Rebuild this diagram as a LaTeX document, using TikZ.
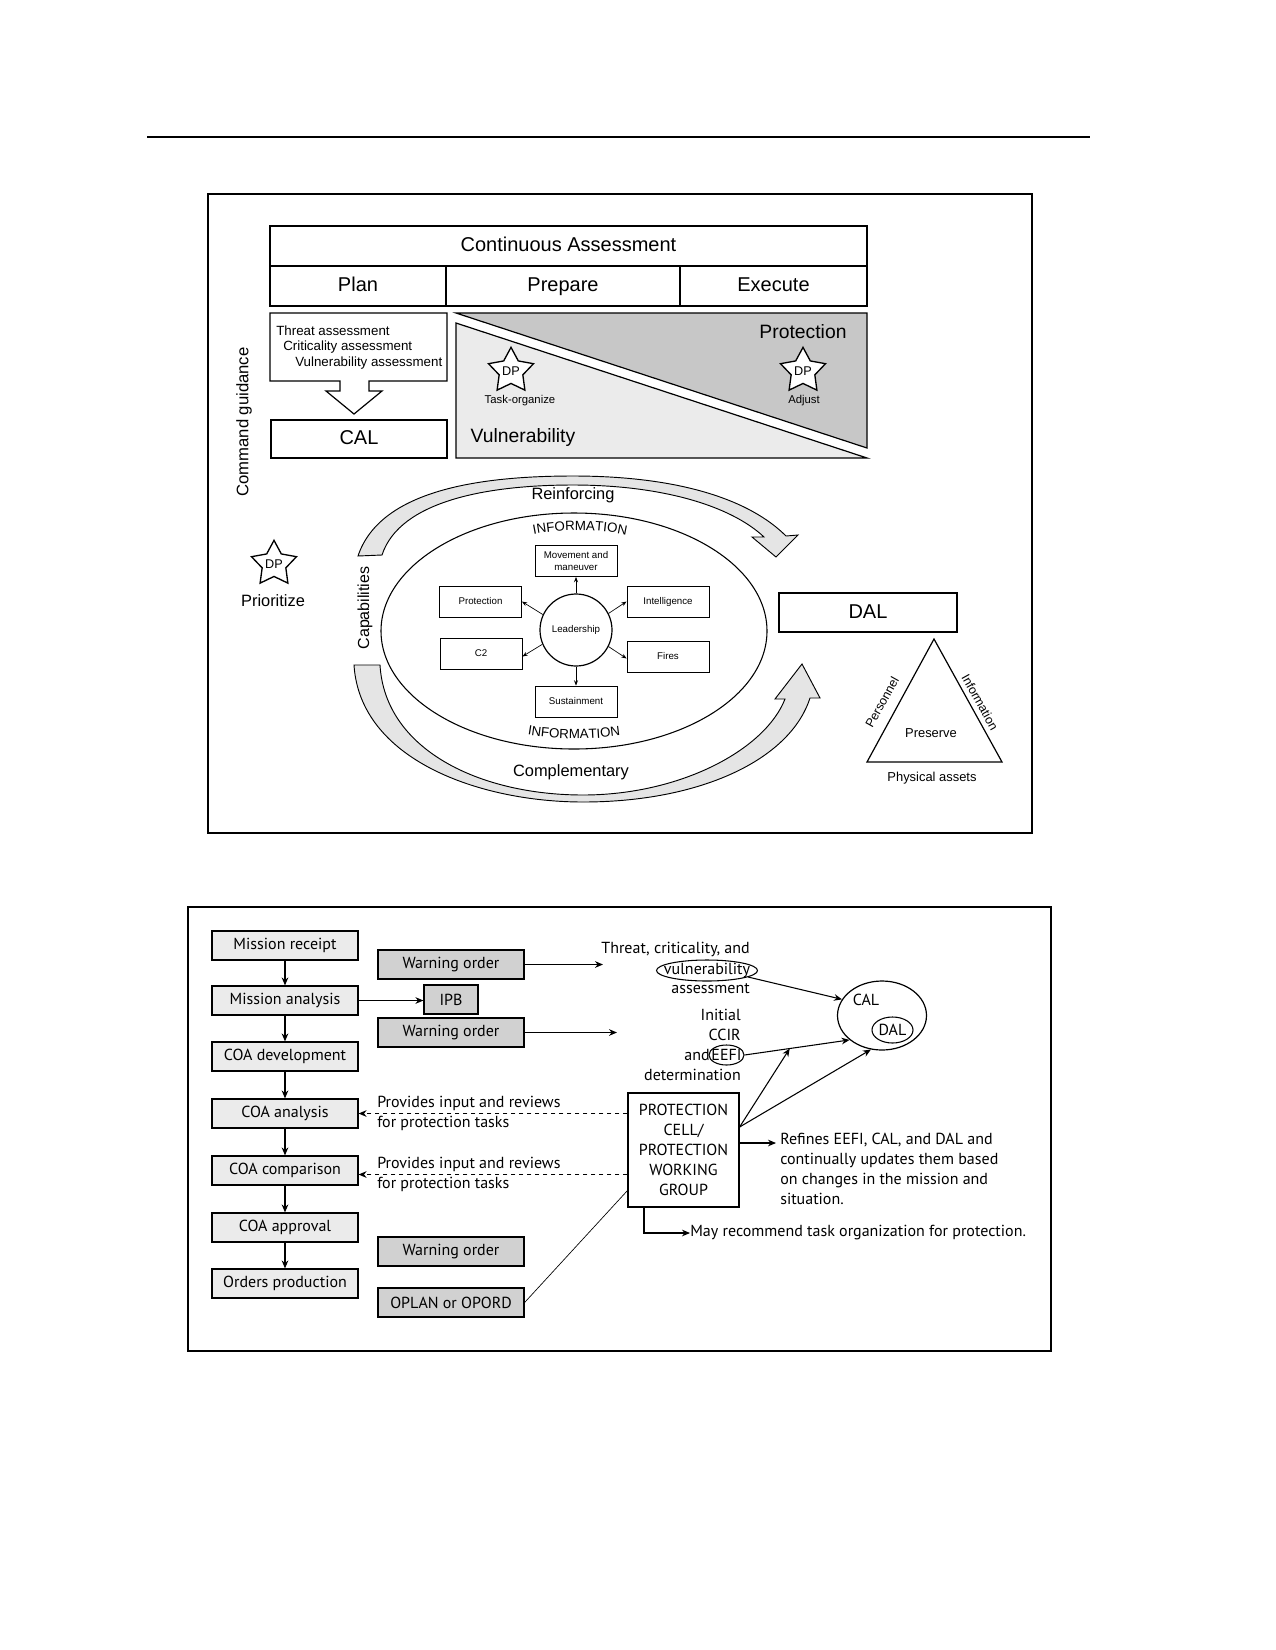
\documentclass[tikz,border=0pt]{standalone}
\usepackage{fontspec}
\setmainfont{Liberation Sans}
\newfontfamily\myr{PT Sans}
\usetikzlibrary{shapes.geometric,arrows.meta,decorations.text,calc}
\definecolor{lg}{gray}{0.92}
\definecolor{dg}{gray}{0.78}
\definecolor{bandg}{gray}{0.90}
\definecolor{boxl}{gray}{0.92}
\definecolor{boxd}{gray}{0.82}
\begin{document}
\begin{tikzpicture}[x=0.75pt,y=-0.75pt,
  outerframe/.style={draw, line width=1.1pt},
  tbox/.style={draw, line width=0.9pt, inner sep=0pt, text height=11pt, text depth=2.5pt, font=\fontsize{15}{18}\selectfont},
  ibox/.style={draw, line width=0.6pt, minimum width=61.5pt, minimum height=23.25pt, inner sep=0pt, align=center, font=\fontsize{7.3}{8.5}\selectfont},
  dpstar/.style={star, star points=5, star point ratio=1.9, draw, line width=1pt, fill=white, minimum size=32pt, inner sep=0pt, font=\fontsize{9.5}{10}\selectfont},
  smallarrow/.style={-{Stealth[length=4pt,width=3pt]}, line width=0.5pt},
  lbox/.style={draw, line width=0.9pt, fill=boxl, minimum width=109.5pt, minimum height=21.75pt, inner sep=0pt, font=\myr\fontsize{12}{14}\selectfont},
  rbox/.style={lbox, fill=boxd},
  bt/.style={font=\myr\fontsize{12}{15}\selectfont, inner sep=0pt},
  flow/.style={-{Stealth[length=6pt,width=5pt]}, line width=0.8pt},
  lab/.style={inner sep=0pt},
]
\useasboundingbox (0,0) rectangle (1275,1650);
\fill[white] (0,0) rectangle (1275,1650);

% top rule
\draw[line width=1.5pt] (147,137) -- (1090,137);

% ================= TOP FIGURE =================
\draw[outerframe] (208,194) rectangle (1032,833);

\node[tbox, minimum width=447.75pt, minimum height=30pt] (cont) at (568.5,246) {Continuous Assessment};
\node[tbox, minimum width=132pt, minimum height=30pt] (plan) at (358,286) {Plan};
\node[tbox, minimum width=175.5pt, minimum height=30pt] (prep) at (563,286) {Prepare};
\node[tbox, minimum width=140.25pt, minimum height=30pt] (exec) at (773.5,286) {Execute};

% threat box with arrow
\draw[line width=0.9pt, fill=white] (270,313) -- (447,313) -- (447,381) -- (369,381) -- (369,391) -- (382,391) -- (354,414) -- (326,391) -- (340,391) -- (340,381) -- (270,381) -- cycle;
\node[lab, anchor=west, font=\fontsize{10}{12}\selectfont] (t1) at (276,331) {Threat assessment};
\node[lab, anchor=west, font=\fontsize{10}{12}\selectfont] (t2) at (283,347) {Criticality assessment};
\node[lab, anchor=west, font=\fontsize{10}{12}\selectfont] (t3) at (295,363) {Vulnerability assessment};
\node[tbox, minimum width=132pt, minimum height=28.5pt] (cal) at (359,439) {CAL};

% vulnerability / protection triangles
\filldraw[fill=lg, line width=0.9pt] (456,323) -- (867,458) -- (456,458) -- cycle;
\filldraw[fill=dg, line width=0.9pt] (456,313) -- (867,313) -- (867,448) -- cycle;
\node[lab, font=\fontsize{14.5}{16}\selectfont] (protl) at (803,332) {Protection};
\node[lab, font=\fontsize{14.5}{16}\selectfont] (vulnl) at (523,437) {Vulnerability};
\node[dpstar] (s1) at (511,371) {DP};
\node[lab, font=\fontsize{8.5}{10}\selectfont] (s1l) at (520,401) {Task-organize};
\node[dpstar] (s2) at (803,371) {DP};
\node[lab, font=\fontsize{8.5}{10}\selectfont] (s2l) at (804,401) {Adjust};

\node[lab, rotate=90, font=\fontsize{12.5}{14}\selectfont] (cg) at (244,422) {Command guidance};
\node[dpstar] (s3) at (274,564) {DP};
\node[lab, font=\fontsize{12.3}{14}\selectfont] (s3l) at (273,601) {Prioritize};
\node[lab, rotate=90, font=\fontsize{12}{14}\selectfont] (capl) at (365,608) {Capabilities};

% reinforcing band
\filldraw[fill=bandg, line width=0.7pt] (358,556) .. controls (380,490) and (480,476) .. (573,476) .. controls (680,476) and (750,500) .. (786,536) -- (798,535) -- (776,557) -- (752,537) -- (764,537) .. controls (730,505) and (660,485) .. (573,485) .. controls (490,485) and (400,500) .. (382,555) -- cycle;
% complementary band
\filldraw[fill=bandg, line width=0.7pt] (354,665) .. controls (360,760) and (480,802) .. (583,802) .. controls (700,802) and (790,760) .. (810,698) -- (820,698) -- (802,664) -- (775,699) -- (785,699) .. controls (765,750) and (680,795) .. (583,795) .. controls (480,795) and (385,750) .. (380,665) -- cycle;
\node[lab, font=\fontsize{12.3}{14}\selectfont] (reinf) at (573,495) {Reinforcing};
\node[lab, font=\fontsize{12.3}{14}\selectfont] (compl) at (571,772) {Complementary};

% inner ellipse
\node[draw, ellipse, line width=0.8pt, minimum width=289.5pt, minimum height=177pt] (infoell) at (574,631) {};
\path[decorate, decoration={text along path, text align=center, text={|\fontsize{10}{12}\selectfont|INFORMATION}}] (526,536) .. controls (560,528) and (600,528) .. (634,537);
\path[decorate, decoration={text along path, text align=center, text={|\fontsize{10}{12}\selectfont|INFORMATION}}] (523,734) .. controls (555,740) and (595,740) .. (625,735);

\node[draw, circle, line width=0.9pt, minimum size=54pt, inner sep=0pt, font=\fontsize{7.3}{9}\selectfont] (lead) at (576,630) {Leadership};
\node[ibox] (mm) at (576,561) {Movement and\\maneuver};
\node[ibox] (protb) at (480.5,601.5) {Protection};
\node[ibox] (c2) at (481,653.5) {C2};
\node[ibox] (sust) at (576,701.5) {Sustainment};
\node[ibox] (intel) at (668,601.5) {Intelligence};
\node[ibox] (fires) at (668,656.5) {Fires};
\draw[smallarrow] (lead.north) -- (mm.south);
\draw[smallarrow] (lead.south) -- (sust.north);
\draw[smallarrow] (lead.155) -- (protb.east);
\draw[smallarrow] (lead.203) -- ($(c2.east)+(0,3)$);
\draw[smallarrow] (lead.27) -- (intel.west);
\draw[smallarrow] (lead.333) -- ($(fires.west)+(0,2)$);

% DAL and triangle
\node[tbox, minimum width=133.5pt, minimum height=29.25pt] (dal) at (868,612.5) {DAL};
\draw[line width=0.9pt] (934,639) -- (1002,762) -- (867,762) -- cycle;
\node[lab, font=\fontsize{9.7}{11}\selectfont] (pres) at (931,733) {Preserve};
\node[lab, font=\fontsize{9.7}{11}\selectfont] (phys) at (932,778) {Physical assets};
\node[lab, rotate=61, font=\fontsize{9.3}{11}\selectfont] (pers) at (882,702) {Personnel};
\node[lab, rotate=-61, font=\fontsize{9.3}{11}\selectfont] (infl) at (980,702) {Information};

% ================= BOTTOM FIGURE =================
\draw[outerframe] (188,907) rectangle (1051,1351);

\node[lbox] (mr) at (285,945.5) {Mission receipt};
\node[lbox] (man) at (285,1000.5) {Mission analysis};
\node[lbox] (coadev) at (285,1056.5) {COA development};
\node[lbox] (coaan) at (285,1113.5) {COA analysis};
\node[lbox] (coacomp) at (285,1170.5) {COA comparison};
\node[lbox] (coaapp) at (285,1227.5) {COA approval};
\node[lbox] (ordp) at (285,1283.5) {Orders production};
\draw[flow] (mr) -- (man);
\draw[flow] (man) -- (coadev);
\draw[flow] (coadev) -- (coaan);
\draw[flow] (coaan) -- (coacomp);
\draw[flow] (coacomp) -- (coaapp);
\draw[flow] (coaapp) -- (ordp);

\node[rbox] (wo1) at (451,964.5) {Warning order};
\node[rbox, minimum width=40.5pt] (ipb) at (451,999.5) {IPB};
\node[rbox] (wo2) at (451,1032.5) {Warning order};
\node[rbox] (wo3) at (451,1251.5) {Warning order};
\node[rbox] (oplan) at (451,1302.5) {OPLAN or OPORD};
\draw[flow] (man.east) -- (man.east -| ipb.west);
\coordinate (w1end) at (603,964.5);
\coordinate (w2end) at (617,1032.5);
\draw[flow] (wo1.east) -- (w1end);
\draw[flow] (wo2.east) -- (w2end);

\node[bt, anchor=east] (thr) at (750,949) {Threat, criticality, and};
\node[draw, ellipse, line width=0.8pt, minimum width=75.75pt, minimum height=15.75pt] (vul) at (707,970.5) {};
\node[bt] (vult) at (707,970) {vulnerability};
\node[bt, anchor=east] (asse) at (750,989) {assessment};
\node[bt, anchor=east] (init) at (741,1015) {Initial};
\node[bt, anchor=east] (ccir) at (741,1035) {CCIR};
\node[draw, ellipse, line width=0.8pt, minimum width=26.25pt, minimum height=15pt] (eefi) at (726.5,1055) {};
\node[bt] (eefit) at (726.5,1055) {EEFI};
\node[bt, anchor=east] (andt) at (710,1055) {and};
\node[bt, anchor=east] (det) at (741,1075) {determination};

\node[draw, ellipse, line width=0.9pt, minimum width=66.75pt, minimum height=51.75pt] (cal2) at (882,1015.5) {};
\node[bt] (calt) at (866,1000) {CAL};
\node[draw, ellipse, line width=0.8pt, minimum width=30.75pt, minimum height=19.5pt] (dal2) at (892.5,1030) {};
\node[bt] (dalt) at (892.5,1030) {DAL};

\node[draw, line width=0.9pt, minimum width=83.25pt, minimum height=85.5pt, align=center, font=\myr\fontsize{12}{15}\selectfont, inner sep=0pt] (pcell) at (683.5,1150) {PROTECTION\\CELL/\\PROTECTION\\WORKING\\GROUP};

\draw[flow] (vul.-9) -- (cal2.158);
\draw[flow] (eefi.east) -- (cal2.-143);
\coordinate (pcs) at ($(pcell.east)+(0,-23)$);
\coordinate (midl) at ($(eefi.east)!0.43!(cal2.-143)$);
\draw[flow] (pcs) -- (midl);
\draw[flow] (pcs) -- (cal2.-108);

\coordinate (rfs) at ($(pcell.east)+(0,-7)$);
\coordinate (rfe) at (776,1143);
\draw[flow] (rfs) -- (rfe);
\node[bt, anchor=north west, align=left] (rft) at (780,1133) {Refines EEFI, CAL, and DAL and\\continually updates them based\\on changes in the mission and\\situation.};

\coordinate (mrs) at ($(pcell.south)+(-39.5,0)$);
\node[bt, anchor=west] (mrt) at (690,1233) {May recommend task organization for protection.};
\draw[flow] (mrs) |- (mrt.west);

\draw[flow, dashed] (pcell.west |- coaan.east) -- (coaan.east);
\node[bt, anchor=west, align=left] (pi1) at (377,1113) {Provides input and reviews\\for protection tasks};
\coordinate (ccd) at ($(coacomp.east)+(0,4)$);
\draw[flow, dashed] (pcell.west |- ccd) -- (ccd);
\node[bt, anchor=west, align=left] (pi2) at (377,1174) {Provides input and reviews\\for protection tasks};

\coordinate (opend) at ($(pcell.south west)+(0,-17)$);
\draw[line width=0.5pt] (oplan.east) -- (opend);
\end{tikzpicture}
\end{document}
